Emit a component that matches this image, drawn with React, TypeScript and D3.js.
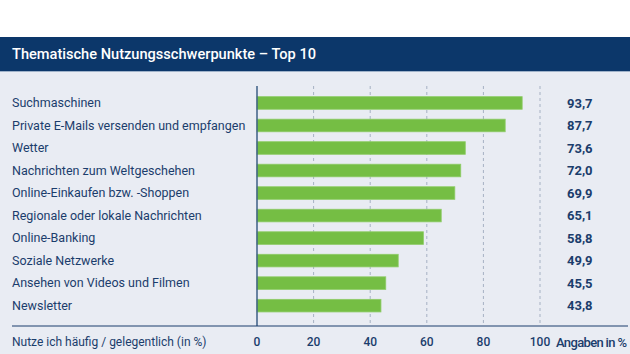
import React from "react";
import * as d3 from "d3";

const categories = [
  "Suchmaschinen",
  "Private E-Mails versenden und empfangen",
  "Wetter",
  "Nachrichten zum Weltgeschehen",
  "Online-Einkaufen bzw. -Shoppen",
  "Regionale oder lokale Nachrichten",
  "Online-Banking",
  "Soziale Netzwerke",
  "Ansehen von Videos und Filmen",
  "Newsletter",
];
const values = [93.7, 87.7, 73.6, 72.0, 69.9, 65.1, 58.8, 49.9, 45.5, 43.8];
const ticks = [0, 20, 40, 60, 80, 100];
const title = "Thematische Nutzungsschwerpunkte – Top 10";
const xLabelLeft = "Nutze ich häufig / gelegentlich (in %)";
const xLabelRight = "Angaben in %";

const W = 630;
const H = 354;
const NAVY = "#0c376a";
const TEXT = "#1b3d6c";
const BG = "#e9ecf3";
const GREEN = "#75be44";
const FONT = "Roboto, 'Noto Sans', sans-serif";

export default function App() {
  const x = d3.scaleLinear().domain([0, 100]).range([257, 540]);
  const y = d3
    .scaleBand<string>()
    .domain(categories)
    .range([91.7, 316.9])
    .paddingInner(0.44)
    .paddingOuter(0.22);
  const fmt = (v: number) => v.toFixed(1).replace(".", ",");
  const axisTop = 86;
  const axisBottom = 326;

  return (
    <svg
      width={W}
      height={H}
      style={{ position: "absolute", left: 0, top: 0, display: "block" }}
      fontFamily={FONT}
    >
      <rect x={0} y={0} width={W} height={H} fill="#ffffff" />
      <rect x={0} y={37} width={W} height={H - 37} fill={BG} />
      <rect x={0} y={37} width={W} height={34} fill={NAVY} />
      <rect x={0} y={71} width={W} height={1} fill="#9fb2c9" />
      <text x={12} y={58.5} fill="#ffffff" fontSize={14.6} fontWeight={500}>
        {title}
      </text>

      {ticks.slice(1).map((t) => (
        <line
          key={"g" + t}
          x1={x(t)}
          x2={x(t)}
          y1={axisTop}
          y2={axisBottom}
          stroke="#a6b1c3"
          strokeWidth={1}
          strokeDasharray="3,3"
        />
      ))}

      {categories.map((c, i) => {
        const yy = y(c)!;
        const cy = yy + y.bandwidth() / 2;
        return (
          <g key={c}>
            <rect
              x={x(0)}
              y={yy}
              width={x(values[i]) - x(0)}
              height={y.bandwidth()}
              fill={GREEN}
              stroke="#8fcc68"
              strokeWidth={0.8}
            />
            <text x={12} y={cy} dy="0.35em" fill={TEXT} fontSize={12.5}>
              {c}
            </text>
            <text
              x={567}
              y={cy}
              dy="0.35em"
              fill={TEXT}
              fontSize={13}
              fontWeight={700}
            >
              {fmt(values[i])}
            </text>
          </g>
        );
      })}

      <line
        x1={x(0)}
        x2={x(0)}
        y1={axisTop}
        y2={axisBottom}
        stroke="#3d5f86"
        strokeWidth={1.5}
      />
      <line x1={12} x2={628} y1={axisBottom} y2={axisBottom} stroke={TEXT} strokeWidth={1} />

      {ticks.map((t) => (
        <text
          key={"t" + t}
          x={x(t)}
          y={342}
          dy="0.35em"
          textAnchor="middle"
          fill={TEXT}
          fontSize={12}
          fontWeight={500}
        >
          {t}
        </text>
      ))}
      <text x={12} y={342} dy="0.35em" fill={TEXT} fontSize={12}>
        {xLabelLeft}
      </text>
      <text
        x={556}
        y={342}
        dy="0.35em"
        fill={TEXT}
        fontSize={13}
        fontWeight={500}
        textLength={71}
        lengthAdjust="spacing"
      >
        {xLabelRight}
      </text>
    </svg>
  );
}
